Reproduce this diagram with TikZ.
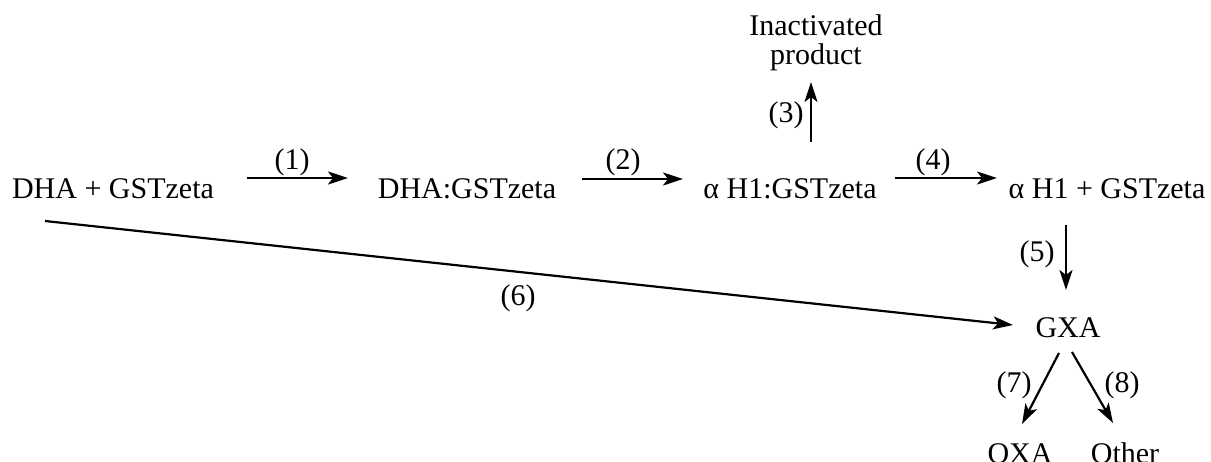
\documentclass[tikz,border=0pt]{standalone}
\usepackage{fontspec}
\setmainfont{Liberation Serif}
\usetikzlibrary{arrows.meta,calc}
\begin{document}
\begin{tikzpicture}[x=1pt,y=-1pt,
  every node/.style={inner sep=0pt,font=\fontsize{30}{29}\selectfont},
  spec/.style={anchor=base},
  lbl/.style={anchor=base},
  arr/.style={line width=2.2pt,-{Stealth[length=20pt,width=13pt,inset=5pt]}}]
\useasboundingbox (0,0) rectangle (1211,461);
% species
\node[spec] (n1) at (113,198) {DHA + GSTzeta};
\node[spec] (n2) at (467,198) {DHA:GSTzeta};
\node[spec] (n3) at (790,198) {α H1:GSTzeta};
\node[spec] (n4) at (1107,198) {α H1 + GSTzeta};
\node[spec] (n5) at (1068,337) {GXA};
\node[anchor=north,align=center] (ni) at (816,14) {Inactivated\\product};
\node[spec] (no) at (1020,463) {OXA};
\node[spec] (nt) at (1125,463) {Other};
% labels
\node[lbl] (l1) at (292,169) {(1)};
\node[lbl] (l2) at (623,169) {(2)};
\node[lbl] (l3) at (786,122) {(3)};
\node[lbl] (l4) at (933,169) {(4)};
\node[lbl] (l5) at (1037,261) {(5)};
\node[lbl] (l6) at (518,305) {(6)};
\node[lbl] (l7) at (1014,392) {(7)};
\node[lbl] (l8) at (1122,392) {(8)};
% arrows
\draw[arr] ($(n1.base)+(134,-20)$) -- ($(n2.base)+(-119,-20)$);
\draw[arr] ($(n2.base)+(115,-19)$) -- ($(n3.base)+(-107,-19)$);
\draw[arr] ($(n3.base)+(21,-56)$) -- ($(ni.north)+(-5,68)$);
\draw[arr] ($(n3.base)+(105,-20)$) -- ($(n4.base)+(-110,-20)$);
\draw[arr] ($(n4.base)+(-41,27)$) -- ($(n5.base)+(-2,-47)$);
\draw[arr] ($(n1.base)+(-68,23)$) -- ($(n5.base)+(-55,-12)$);
\draw[arr] ($(n5.base)+(-9,16)$) -- ($(no.base)+(2,-39)$);
\draw[arr] ($(n5.base)+(4,15)$) -- ($(nt.base)+(-12,-40)$);
\end{tikzpicture}
\end{document}
